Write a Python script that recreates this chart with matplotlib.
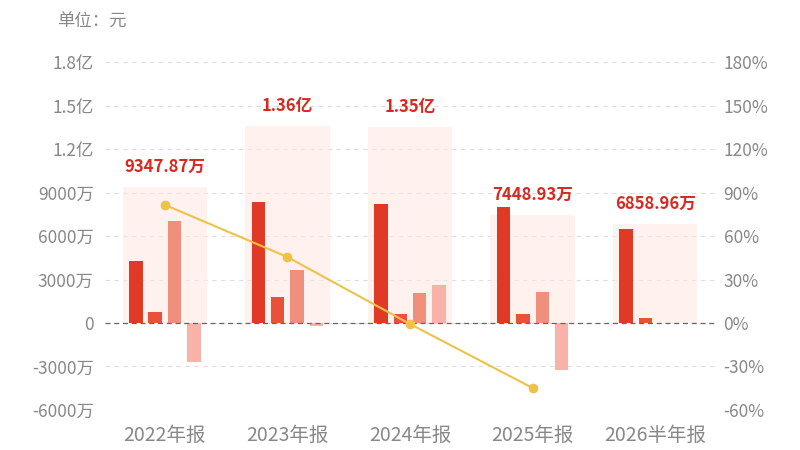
import matplotlib
matplotlib.use("Agg")
import matplotlib.pyplot as plt
from matplotlib.ticker import FuncFormatter
import numpy as np

plt.rcParams['font.family'] = ['Noto Sans CJK SC', 'DejaVu Sans']

# values in 万元
periods = ["2022年报", "2023年报", "2024年报", "2025年报", "2026半年报"]
part1 = [4276, 8366, 8207, 7976, 6510]
part2 = [738, 1793, 620, 600, 349]
part3 = [7055, 3634, 2048, 2138, 0]
part4 = [-2721, -193, 2625, -3265, 0]
totals = [9347.87, 13600, 13500, 7448.93, 6858.96]
total_labels = ["9347.87万", "1.36亿", "1.35亿", "7448.93万", "6858.96万"]
growth = [81.5, 45.5, -0.7, -44.8, np.nan]

colors = ["#E03A26", "#E9513D", "#F0907C", "#F8B2A7"]
gray = "#888888"

fig = plt.figure(figsize=(8, 4.5), dpi=100)
ax = fig.add_axes([0.131, 0.0889, 0.763, 0.7733])
ax2 = ax.twinx()

x = np.arange(len(periods))

# background total bars
ax.bar(x, totals, width=0.69, color="#FEE8E4", alpha=0.6, zorder=1)
for xi, t, lab in zip(x, totals, total_labels):
    ax.annotate(lab, (xi, t), xytext=(0, 8), textcoords="offset points",
                ha="center", va="bottom", color="#D9281E", fontsize=12,
                fontweight="bold")

w = 0.11
step = 0.158
for i, vals in enumerate([part1, part2, part3, part4]):
    ax.bar(x + (i - 1.5) * step, vals, width=w, color=colors[i], zorder=3)

ax.set_ylim(-6000, 18000)
ax.set_yticks(np.arange(-6000, 18001, 3000))
ax.set_xlim(-0.49, 4.49)


def fmt_left(v, pos):
    if v == 0:
        return "0"
    if abs(v) >= 10000:
        return f"{v / 10000:.1f}亿"
    return f"{int(v)}万"


ax.yaxis.set_major_formatter(FuncFormatter(fmt_left))
ax.grid(axis="y", linestyle=(0, (4, 4)), color="#DDDDDD", linewidth=0.8, zorder=0)
ax.axhline(0, linestyle=(0, (4, 3)), color="#666666", linewidth=0.9, zorder=4)
ax.set_axisbelow(True)

ax.set_xticks(x)
ax.set_xticklabels(periods)

ax2.plot(x, growth, color="#EEC24A", linewidth=1.5, marker="o", markersize=6,
         zorder=5)
ax2.set_ylim(-60, 180)
ax2.set_yticks(np.arange(-60, 181, 30))
ax2.yaxis.set_major_formatter(FuncFormatter(lambda v, p: f"{int(v)}%"))

for a in (ax, ax2):
    for s in a.spines.values():
        s.set_visible(False)
    a.tick_params(length=0, colors=gray, labelsize=12.5)
ax.tick_params(axis="x", pad=11, labelsize=14)
ax.tick_params(axis="y", pad=8)
ax2.tick_params(axis="y", pad=6)

fig.text(0.071, 0.951, "单位：元", color=gray, fontsize=12.5, ha="left", va="center")

fig.savefig("out.png", dpi=100)
